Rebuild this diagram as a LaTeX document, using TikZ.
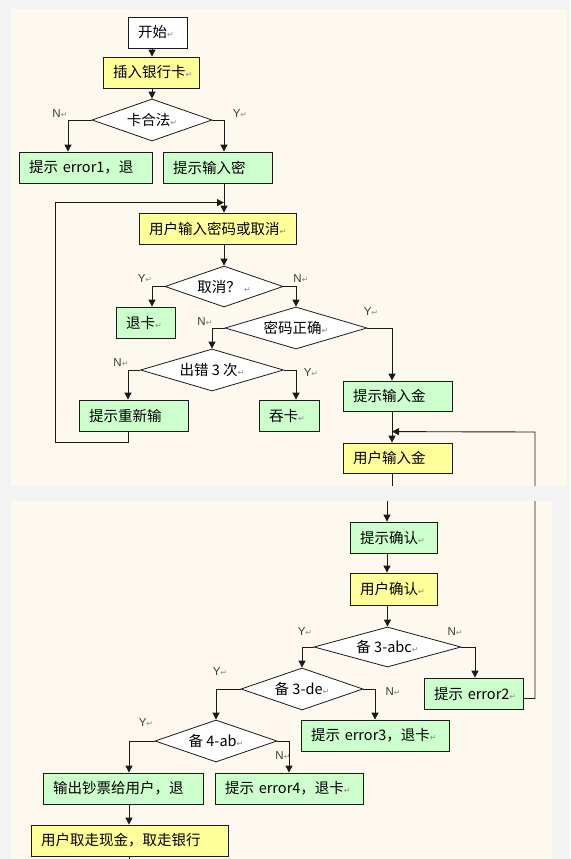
\documentclass[tikz,border=0pt]{standalone}
\usepackage{fontspec}
\setmainfont{Noto Sans CJK SC}
\newfontfamily\labelfont{Liberation Sans}
\newfontfamily\markfont{DejaVu Sans}
\usepackage{tikz}
\usetikzlibrary{arrows.meta,shapes.geometric,backgrounds}
\definecolor{atmCream}{HTML}{FDF9EE}
\definecolor{atmGray}{HTML}{F3F3F3}
\definecolor{atmGreen}{HTML}{CCFFCC}
\definecolor{atmYellow}{HTML}{FFFF99}
\definecolor{atmInk}{HTML}{1A1A1A}
\definecolor{atmLabel}{HTML}{3A3A3A}
\definecolor{atmMark}{HTML}{8C8C8C}
\newcommand{\retmark}{{\markfont\color{atmMark}\fontsize{8}{8}\selectfont ↵}}
\tikzset{
  atmBox/.style={
    rectangle,
    draw=atmInk,
    line width=0.8pt,
    fill=white,
    minimum height=31pt,
    inner xsep=10pt,
    inner ysep=0pt,
    align=left,
    font=\fontsize{14.5}{17}\selectfont
  },
  atmAction/.style={
    atmBox,
    fill=atmGreen
  },
  atmInput/.style={
    atmBox,
    fill=atmYellow
  },
  atmDecision/.style={
    diamond,
    draw=atmInk,
    line width=0.8pt,
    fill=white,
    aspect=3,
    inner sep=0pt,
    font=\fontsize{14.5}{17}\selectfont
  },
  atmArrow/.style={
    -{Triangle[length=7pt,width=7pt]},
    line width=0.9pt,
    draw=atmInk
  },
  atmPlain/.style={
    line width=0.9pt,
    draw=atmInk
  },
  atmTag/.style={
    font=\labelfont\fontsize{11.5}{13}\selectfont,
    text=atmLabel,
    inner sep=0pt
  }
}

\begin{document}
\begin{tikzpicture}[x=1pt,y=-1pt]
  \useasboundingbox (0,0) rectangle (570,859);
  \begin{scope}[on background layer]
    \fill[atmGray] (0,0) rectangle (570,859);
    \fill[atmCream] (11,9) rectangle (567,486);
    \fill[atmCream] (11,501) rectangle (552,859);
  \end{scope}

  \node[atmBox, text width=39pt] (start) at (157.5,32.5) {开始\retmark};
  \node[atmInput, text width=76pt] (card) at (151,72.5) {插入银行卡\retmark};
  \node[atmDecision, minimum width=120pt, minimum height=42pt] (cardok) at (152,120) {卡合法\retmark};
  \node[atmAction, text width=113pt] (err1) at (85.5,167.5) {提示~\mbox{error1}，退};
  \node[atmAction, text width=89pt] (pwdhint) at (217.5,167.5) {提示输入密};
  \node[atmInput, text width=137pt] (pin) at (217.5,228.5) {用户输入密码或取消\retmark};
  \node[atmDecision, minimum width=118pt, minimum height=41pt] (cancel) at (224,286.5) {取消？ \retmark};
  \node[atmAction, text width=39pt] (eject) at (145.5,322.5) {退卡\retmark};
  \node[atmDecision, minimum width=142pt, minimum height=42pt] (pwdok) at (296,328) {密码正确\retmark};
  \node[atmDecision, minimum width=143pt, minimum height=42pt] (thrice) at (212,370) {出错 3 次\retmark};
  \node[atmAction, text width=89pt] (retry) at (133.5,415.5) {提示重新输};
  \node[atmAction, text width=40pt] (swallow) at (289,415.5) {吞卡\retmark};
  \node[atmAction, text width=89pt, minimum height=30pt] (amthint) at (397.5,396) {提示输入金};
  \node[atmInput, text width=89pt, minimum height=30pt] (amtin) at (397.5,458) {用户输入金};

  \node[atmAction, text width=67pt] (confhint) at (393.5,537.5) {提示确认\retmark};
  \node[atmInput, text width=67pt, minimum height=32pt] (confin) at (393.5,589) {用户确认\retmark};
  \node[atmDecision, minimum width=147pt, minimum height=40pt] (chkabc) at (387.5,647) {备 3-abc\retmark};
  \node[atmAction, text width=79pt] (err2) at (473.5,693.5) {\mbox{提示~error2\retmark}};
  \node[atmDecision, minimum width=122pt, minimum height=42pt] (chkde) at (302,689) {备 3-de\retmark};
  \node[atmAction, text width=128pt] (err3) at (375,735.5) {提示~\mbox{error3}，退卡\retmark};
  \node[atmDecision, minimum width=122pt, minimum height=42pt] (chkab) at (216,741) {备 4-ab\retmark};
  \node[atmAction, text width=128pt] (err4) at (289,788.5) {提示~\mbox{error4}，退卡\retmark};
  \node[atmAction, text width=140pt] (payout) at (123,788.5) {输出钞票给用户，退};
  \node[atmInput, text width=177pt] (takeout) at (129.5,840.5) {用户取走现金，取走银行};
  \coordinate (tail) at (129,859);
  \coordinate (loopDown) at (55,442);
  \coordinate (loopBack) at (535,432);

  \node[atmTag] (cardokN) at (60,114) {N\retmark};
  \node[atmTag] (cardokY) at (240,114) {Y\retmark};
  \node[atmTag] (cancelY) at (145,279) {Y\retmark};
  \node[atmTag] (cancelN) at (301,279) {N\retmark};
  \node[atmTag] (pwdokN) at (205,322) {N\retmark};
  \node[atmTag] (pwdokY) at (371,312) {Y\retmark};
  \node[atmTag] (thriceN) at (121,363) {N\retmark};
  \node[atmTag] (thriceY) at (311,373) {Y\retmark};
  \node[atmTag] (chkabcY) at (305,632) {Y\retmark};
  \node[atmTag] (chkabcN) at (455,632) {N\retmark};
  \node[atmTag] (chkdeY) at (220,672) {Y\retmark};
  \node[atmTag] (chkdeN) at (393,692) {N\retmark};
  \node[atmTag] (chkabY) at (146,723) {Y\retmark};
  \node[atmTag] (chkabN) at (283,756) {N\retmark};

  \draw[atmArrow] (start.south -| cardok.north) -- (card.north -| cardok.north);
  \draw[atmArrow] (card.south -| cardok.north) -- (cardok.north);
  \draw[atmArrow] (cardok.west) -| ([xshift=-17.5pt]err1.north);
  \draw[atmArrow] (cardok.east) -| ([xshift=6.5pt]pwdhint.north);
  \draw[atmArrow] ([xshift=6.5pt]pwdhint.south) -- ([xshift=6.5pt]pin.north);
  \draw[atmArrow] (cancel.north |- pin.south) -- (cancel.north);
  \draw[atmArrow] (cancel.west) -| ([xshift=6.5pt]eject.north);
  \draw[atmArrow] (cancel.east) -| (pwdok.north);
  \draw[atmArrow] (pwdok.west) -| (thrice.north);
  \draw[atmArrow] (pwdok.east) -| ([xshift=-5.5pt]amthint.north);
  \draw[atmArrow] (thrice.west) -| ([xshift=-5.5pt]retry.north);
  \draw[atmArrow] (thrice.east) -| ([xshift=7pt]swallow.north);
  \draw[atmArrow] ([xshift=-5.5pt]retry.south) |- (loopDown) |- ([xshift=6.5pt,yshift=10pt]pin.north);
  \draw[atmArrow] ([xshift=-5.5pt]amthint.south) -- ([xshift=-5.5pt]amtin.north);
  \draw[atmArrow] ([xshift=-5.5pt]amtin.south) -- ++(0,20) -| ([xshift=-6.5pt]confhint.north);
  \draw[atmArrow] ([xshift=-6.5pt]confhint.south) -- ([xshift=-6.5pt]confin.north);
  \draw[atmArrow] (chkabc.north |- confin.south) -- (chkabc.north);
  \draw[atmArrow] (chkabc.east) -| ([xshift=1.5pt]err2.north);
  \draw[atmArrow] ([yshift=-5pt]err2.east) -| (loopBack) -- ([xshift=-5.5pt,yshift=11pt]amtin.north);
  \draw[atmArrow] (chkabc.west) -| (chkde.north);
  \draw[atmArrow] (chkde.east) -| (err3.north);
  \draw[atmArrow] (chkde.west) -| (chkab.north);
  \draw[atmArrow] (chkab.east) -| (err4.north);
  \draw[atmArrow] (chkab.west) -| ([xshift=6pt]payout.north);
  \draw[atmArrow] ([xshift=6pt]payout.south) -- ([xshift=6pt]payout.south |- takeout.north);
  \draw[atmPlain] (takeout.south) -- (takeout.south |- tail);

  \fill[atmGray] (0,486) rectangle (570,501);
\end{tikzpicture}
\end{document}
